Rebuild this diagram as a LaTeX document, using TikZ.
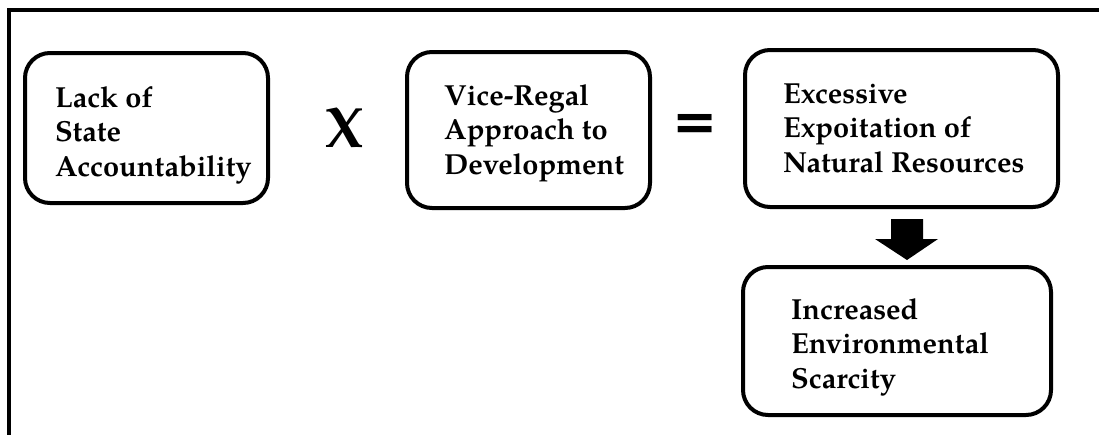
\documentclass[tikz,border=0pt]{standalone}
\usepackage{fontspec}
\usetikzlibrary{calc}
\setmainfont{texgyrepagella-regular.otf}[BoldFont=texgyrepagella-bold.otf]
\newfontfamily\eqfont{DejaVu Sans}
\begin{document}
\begin{tikzpicture}[x=1pt,y=-1pt,
  box/.style={draw=black, line width=4pt, rounded corners=25pt, inner sep=0pt},
  lbl/.style={align=left, inner sep=0pt, anchor=base west, font=\bfseries\fontsize{29}{34.5}\selectfont},
  op/.style={inner sep=0pt, anchor=base}]
\useasboundingbox (0,0) rectangle (1099,434);
% outer frame (only top and left edges visible)
\draw[line width=4pt] (9,440) -- (9,10) -- (1110,10);
% boxes
\node[box, minimum width=243pt, minimum height=150pt] (b1) at (146.5,128) {};
\node[box, minimum width=243pt, minimum height=156pt] (b2) at (528.5,130) {};
\node[box, minimum width=313pt, minimum height=157pt] (b3) at (901.5,128.5) {};
\node[box, minimum width=308pt, minimum height=148pt] (b4) at (897,341) {};
% labels (anchored at the baseline of the last line)
\node[lbl] (t1) at (55,176) {Lack of\\State\\Accountability};
\node[lbl] (t2) at (444,174) {Vice-Regal\\Approach to\\Development};
\node[lbl] (t3) at (783,172) {Excessive\\Expoitation of\\Natural Resources};
\node[lbl] (t4) at (791,388) {Increased\\Environmental\\Scarcity};
% operators
\node[op, font=\bfseries\fontsize{57}{57}\selectfont] (times) at (345,147) {X};
\node[op, font=\eqfont\bfseries\fontsize{54}{54}\selectfont] (eq) at (695.5,140) {=};
% block arrow from b3 to b4
\coordinate (as) at ($(b3.south)+(5.5,10)$);
\coordinate (at) at ($(b4.north)+(10,-5)$);
\fill[black] ($(as)+(-16,0)$) -- ($(as)+(16,0)$) -- ($(as)+(16,20)$) -- ($(as)+(31,20)$) -- (at) -- ($(as)+(-32,20)$) -- ($(as)+(-16,20)$) -- cycle;
\end{tikzpicture}
\end{document}
